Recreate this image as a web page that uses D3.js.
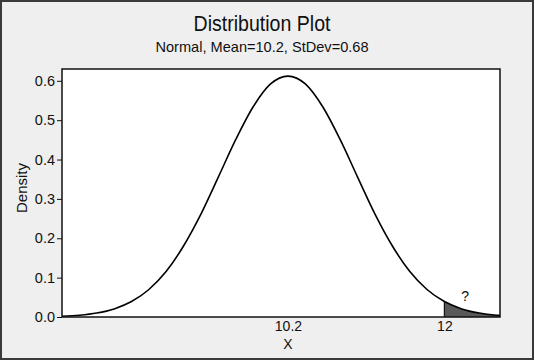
<!DOCTYPE html>
<html>
<head>
<meta charset="utf-8">
<script src="https://cdn.jsdelivr.net/npm/d3@7"></script>
<style>
  html, body { margin: 0; padding: 0; background: #ffffff; }
  svg { display: block; }
  text { font-family: "Liberation Sans", Arial, sans-serif; fill: #111; }
</style>
</head>
<body>
<script>
// ---- data ----
const xValues = [7.6, 7.8, 8.0, 8.2, 8.4, 8.6, 8.8, 9.0, 9.2, 9.4, 9.6, 9.8, 10.0,
                 10.2, 10.4, 10.6, 10.8, 11.0, 11.2, 11.4, 11.6, 11.8, 12.0, 12.2, 12.4, 12.6, 12.64];
const densityValues = [0.0020, 0.0046, 0.0101, 0.0206, 0.0392, 0.0699, 0.116, 0.181, 0.262, 0.356, 0.451, 0.534, 0.592,
                       0.612, 0.592, 0.534, 0.451, 0.356, 0.262, 0.181, 0.116, 0.0699, 0.0392, 0.0206, 0.0101, 0.0046, 0.0039];
const yTickValues = [0.0, 0.1, 0.2, 0.3, 0.4, 0.5, 0.6];
const xTickValues = [10.2, 12];
const xTickLabels = ["10.2", "12"];
const shadeFrom = 12;
const titleText = "Distribution Plot";
const subtitleText = "Normal, Mean=10.2, StDev=0.68";
const xTitle = "X";
const yTitle = "Density";
const questionLabel = "?";

// ---- layout ----
const W = 535, H = 361;
const plot = { left: 62, right: 500, top: 69, bottom: 317 };

const svg = d3.select("body").append("svg").attr("width", W).attr("height", H);

svg.append("rect").attr("x", 1).attr("y", 1).attr("width", 532).attr("height", 358)
  .attr("fill", "#efefef").attr("stroke", "#3a3a3a").attr("stroke-width", 2);

const x = d3.scaleLinear().domain([7.6, 12.64]).range([plot.left, plot.right]);
const y = d3.scaleLinear().domain([0, 0.63]).range([plot.bottom, plot.top]);

const pts = xValues.map((v, i) => ({ x: v, d: densityValues[i] }));

// plot area
svg.append("rect").attr("x", plot.left).attr("y", plot.top)
  .attr("width", plot.right - plot.left).attr("height", plot.bottom - plot.top)
  .attr("fill", "#ffffff");

svg.append("clipPath").attr("id", "clip").append("rect")
  .attr("x", plot.left).attr("y", plot.top)
  .attr("width", plot.right - plot.left).attr("height", plot.bottom - plot.top);

const g = svg.append("g").attr("clip-path", "url(#clip)");

// shaded tail
const tail = pts.filter(p => p.x >= shadeFrom);
g.append("path").datum(tail)
  .attr("d", d3.area().x(p => x(p.x)).y0(y(0)).y1(p => y(p.d)).curve(d3.curveMonotoneX))
  .attr("fill", "#595959");
g.append("line").attr("x1", x(shadeFrom)).attr("x2", x(shadeFrom))
  .attr("y1", y(0)).attr("y2", y(tail[0].d))
  .attr("stroke", "#111").attr("stroke-width", 1.2);

// curve
g.append("path").datum(pts)
  .attr("d", d3.line().x(p => x(p.x)).y(p => y(p.d)).curve(d3.curveMonotoneX))
  .attr("fill", "none").attr("stroke", "#000").attr("stroke-width", 1.6);

// frame
svg.append("rect").attr("x", plot.left).attr("y", plot.top)
  .attr("width", plot.right - plot.left).attr("height", plot.bottom - plot.top)
  .attr("fill", "none").attr("stroke", "#111").attr("stroke-width", 1.5);

// y axis
const yAxis = svg.append("g").attr("transform", `translate(${plot.left},0)`)
  .call(d3.axisLeft(y).tickValues(yTickValues).tickFormat(d3.format(".1f")).tickSize(5).tickPadding(2));
yAxis.select(".domain").remove();
yAxis.selectAll("line").attr("stroke", "#111");
yAxis.selectAll("text").attr("font-size", 14.5).attr("font-family", "Liberation Sans, Arial, sans-serif").attr("fill", "#111");

// x axis
const xAxis = svg.append("g").attr("transform", `translate(0,${plot.bottom})`)
  .call(d3.axisBottom(x).tickValues(xTickValues).tickFormat((d, i) => xTickLabels[i]).tickSize(0).tickPadding(4));
xAxis.select(".domain").remove();
xAxis.selectAll("text").attr("font-size", 14).attr("font-family", "Liberation Sans, Arial, sans-serif").attr("fill", "#111");

// titles
svg.append("text").attr("x", 262).attr("y", 31).attr("text-anchor", "middle")
  .attr("font-size", 22).attr("textLength", 137).attr("lengthAdjust", "spacingAndGlyphs")
  .text(titleText);
svg.append("text").attr("x", 262).attr("y", 51.5).attr("text-anchor", "middle")
  .attr("font-size", 15).attr("textLength", 213).attr("lengthAdjust", "spacingAndGlyphs")
  .text(subtitleText);
svg.append("text").attr("x", x(10.2)).attr("y", 348.5).attr("text-anchor", "middle")
  .attr("font-size", 14).text(xTitle);
svg.append("text").attr("transform", "translate(26.5,188) rotate(-90)").attr("text-anchor", "middle")
  .attr("font-size", 15).text(yTitle);

// question mark annotation
svg.append("text").attr("x", x(12.24)).attr("y", y(0.04)).attr("text-anchor", "middle")
  .attr("font-size", 14).text(questionLabel);
</script>
</body>
</html>
